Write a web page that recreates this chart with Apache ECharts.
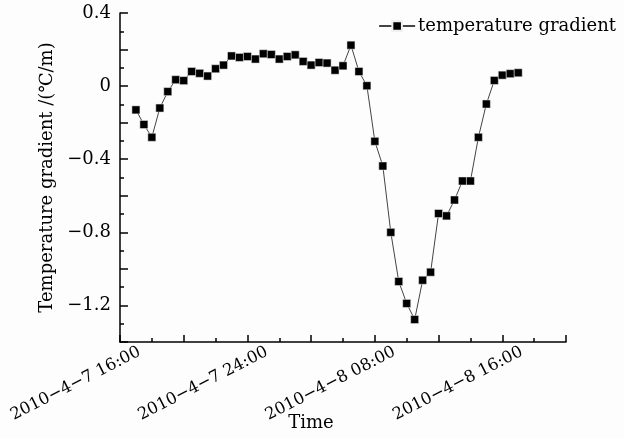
<!DOCTYPE html>
<html>
<head>
<meta charset="utf-8">
<script src="https://cdn.jsdelivr.net/npm/echarts@6/dist/echarts.min.js"></script>
<style>
    * { margin: 0; padding: 0; }
    body { background: #fdfdfd; }
</style>
</head>
<body>
<!-- chart container -->
<div id="gradientChart" style="width: 624px;height: 439px;"></div>
<script>
    var fontName = 'DejaVu Serif';
    var seriesName = 'temperature gradient';
    var startTime = '2010-04-07T16:00';
    // sample times (half-hour readings)
    var times = [
        '2010-04-07T17:00', '2010-04-07T17:30', '2010-04-07T18:00', '2010-04-07T18:30',
        '2010-04-07T19:00', '2010-04-07T19:30', '2010-04-07T20:00', '2010-04-07T20:30',
        '2010-04-07T21:00', '2010-04-07T21:30', '2010-04-07T22:00', '2010-04-07T22:30',
        '2010-04-07T23:00', '2010-04-07T23:30', '2010-04-08T00:00', '2010-04-08T00:30',
        '2010-04-08T01:00', '2010-04-08T01:30', '2010-04-08T02:00', '2010-04-08T02:30',
        '2010-04-08T03:00', '2010-04-08T03:30', '2010-04-08T04:00', '2010-04-08T04:30',
        '2010-04-08T05:00', '2010-04-08T05:30', '2010-04-08T06:00', '2010-04-08T06:30',
        '2010-04-08T07:00', '2010-04-08T07:30', '2010-04-08T08:00', '2010-04-08T08:30',
        '2010-04-08T09:00', '2010-04-08T09:30', '2010-04-08T10:00', '2010-04-08T10:30',
        '2010-04-08T11:00', '2010-04-08T11:30', '2010-04-08T12:00', '2010-04-08T12:30',
        '2010-04-08T13:00', '2010-04-08T13:30', '2010-04-08T14:00', '2010-04-08T14:30',
        '2010-04-08T15:00', '2010-04-08T15:30', '2010-04-08T16:00', '2010-04-08T16:30',
        '2010-04-08T17:00'
    ];
    var gradient = [
        -0.13, -0.21, -0.28, -0.12, -0.03, 0.035, 0.03, 0.08, 0.07, 0.055,
        0.095, 0.115, 0.165, 0.157, 0.162, 0.148, 0.177, 0.173, 0.148, 0.162,
        0.171, 0.135, 0.115, 0.129, 0.126, 0.087, 0.111, 0.224, 0.08, 0.002,
        -0.302, -0.437, -0.80, -1.069, -1.189, -1.277, -1.062, -1.018, -0.697, -0.71,
        -0.623, -0.519, -0.519, -0.28, -0.098, 0.031, 0.06, 0.068, 0.073
    ];
    // x tick labels (hours after start)
    var xLabelHours = [0, 8, 16, 24];
    var xLabelText = ['2010−4−7 16:00', '2010−4−7 24:00', '2010−4−8 08:00', '2010−4−8 16:00'];
    var yLabelValues = [-1.2, -0.8, -0.4, 0, 0.4];

    var t0 = new Date(startTime).getTime();
    var points = times.map(function (t, i) {
        return [(new Date(t).getTime() - t0) / 3600000, gradient[i]];
    });

    var chart = echarts.init(document.getElementById('gradientChart'));
    chart.setOption({
        backgroundColor: '#fdfdfd',
        textStyle: { fontFamily: fontName, color: '#000' },
        animation: false,
        grid: { left: 120, right: 58, top: 13, bottom: 97, containLabel: false, outerBoundsMode: 'none' },
        legend: {
            right: 3,
            top: 12,
            itemWidth: 36,
            itemHeight: 12,
            itemGap: 0,
            textStyle: { fontFamily: fontName, fontSize: 18, color: '#000', padding: [0, 0, 0, -2] },
            data: [seriesName]
        },
        xAxis: {
            type: 'value',
            min: 0,
            max: 28,
            interval: 4,
            name: 'Time',
            nameLocation: 'middle',
            nameGap: 72,
            nameMoveOverlap: false,
            nameTextStyle: { fontFamily: fontName, fontSize: 18, color: '#000', padding: [0, 64, 0, 0] },
            splitLine: { show: false },
            axisLine: { onZero: false, lineStyle: { color: '#000', width: 1.5 } },
            axisTick: { inside: true, length: 7, lineStyle: { color: '#000', width: 1.5 } },
            minorTick: { show: true, splitNumber: 2, length: 4, lineStyle: { color: '#000', width: 1.5 } },
            axisLabel: {
                rotate: 27,
                margin: 19,
                fontSize: 16.5,
                color: '#000',
                fontFamily: fontName,
                padding: [0, -22, 0, 0],
                formatter: function (v) {
                    var k = xLabelHours.indexOf(Math.round(v));
                    return k >= 0 ? xLabelText[k] : '';
                }
            }
        },
        yAxis: {
            type: 'value',
            min: -1.4,
            max: 0.4,
            interval: 0.2,
            name: 'Temperature gradient /(℃/m)',
            nameLocation: 'middle',
            nameGap: 64,
            nameMoveOverlap: false,
            nameTextStyle: { fontFamily: fontName, fontSize: 18, color: '#000' },
            splitLine: { show: false },
            axisLine: { show: true, onZero: false, lineStyle: { color: '#000', width: 1.5 } },
            axisTick: { show: true, inside: true, length: 8, lineStyle: { color: '#000', width: 1.5 } },
            minorTick: { show: true, splitNumber: 2, length: 4, lineStyle: { color: '#000', width: 1.5 } },
            axisLabel: {
                margin: 9,
                fontSize: 18,
                color: '#000',
                fontFamily: fontName,
                formatter: function (v) {
                    var r = Math.round(v * 10) / 10;
                    var ok = yLabelValues.some(function (y) { return Math.abs(y - r) < 1e-6; });
                    if (!ok) return '';
                    return r < 0 ? '−' + Math.abs(r) : String(r);
                }
            }
        },
        series: [{
            name: seriesName,
            type: 'line',
            data: points,
            symbol: 'rect',
            symbolSize: 8,
            lineStyle: { color: '#444', width: 1 },
            itemStyle: { color: '#000', borderColor: '#eee', borderWidth: 0.5 }
        }]
    });
</script>
</body>
</html>
